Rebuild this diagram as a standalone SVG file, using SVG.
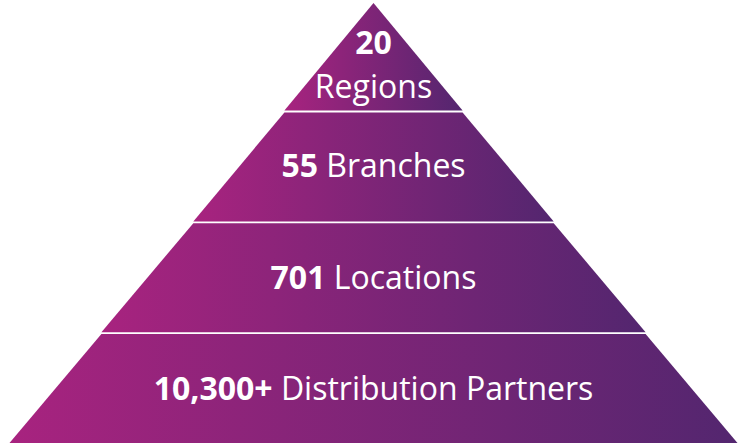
<svg xmlns="http://www.w3.org/2000/svg" width="742" height="443" viewBox="0 0 742 443">
  <defs>
    <linearGradient id="tierFill" x1="0" y1="0" x2="1" y2="0">
      <stop offset="0" stop-color="#A8237F"/>
      <stop offset="1" stop-color="#53266F"/>
    </linearGradient>
    <style>
      .tier { fill: url(#tierFill); }
      .label { font-family: "Open Sans", "Noto Sans", sans-serif; font-size: 32px; fill: #FFFFFF; text-anchor: middle; }
      .num { font-weight: 700; }
    </style>
  </defs>
  <rect width="742" height="443" fill="#FFFFFF"/>

  <!-- Tier 1: apex -->
  <g id="tier-regions">
    <polygon class="tier" points="373.5,3 462.6,110.6 284.4,110.6"/>
    <text class="label num" x="373.5" y="54">20</text>
    <text class="label" x="373.5" y="98">Regions</text>
  </g>

  <!-- Tier 2 -->
  <g id="tier-branches">
    <polygon class="tier" points="284.4,112.4 462.6,112.4 553.7,221.4 193.3,221.4"/>
    <text class="label" x="373.5" y="177"><tspan class="num">55</tspan> Branches</text>
  </g>

  <!-- Tier 3 -->
  <g id="tier-locations">
    <polygon class="tier" points="193.3,223.2 553.7,223.2 645.6,332.2 101.4,332.2"/>
    <text class="label" x="373.5" y="289"><tspan class="num">701</tspan> Locations</text>
  </g>

  <!-- Tier 4: base -->
  <g id="tier-partners">
    <polygon class="tier" points="101.4,334 645.6,334 737.5,443 9.5,443"/>
    <text class="label" x="373.5" y="400"><tspan class="num">10,300+</tspan> Distribution Partners</text>
  </g>
</svg>
